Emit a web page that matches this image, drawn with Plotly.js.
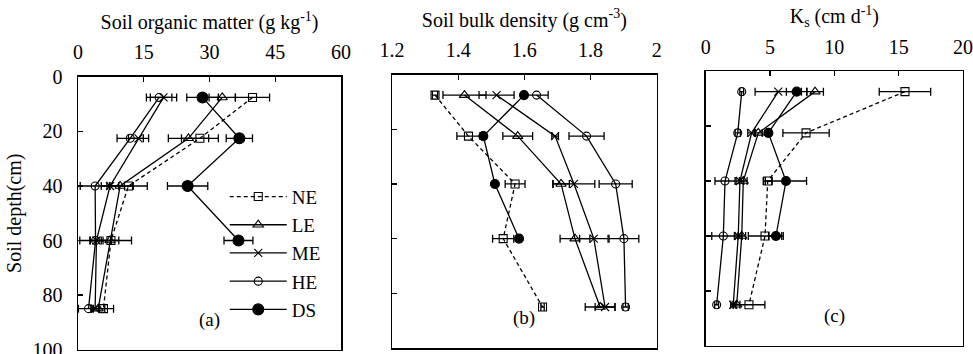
<!DOCTYPE html>
<html>
<head>
<meta charset="utf-8">
<script src="https://cdn.plot.ly/plotly-3.0.1.min.js"></script>
<style>html,body{margin:0;padding:0;background:#fff}#chart{width:973px;height:354px}</style>
</head>
<body>
<div id="chart"></div>
<script>
// depths (cm)
const depth = [7.5, 22.5, 40, 60, 85];
const depthDS = [7.5, 22.5, 40, 60];
const seriesNames = ["NE", "LE", "ME", "HE", "DS"];

// (a) Soil organic matter (g kg-1)
const somNE = [39.8, 27.8, 11.5, 7.5, 5.8];
const somNEerr = [3.9, 4.2, 4.3, 4.7, 2.3];
const somLE = [32.9, 25.2, 9.6, 7.3, 4.6];
const somLEerr = [3.0, 4.6, 3.0, 2.0, 1.5];
const somME = [19.5, 13.8, 7.3, 4.2, 3.9];
const somMEerr = [3.0, 2.3, 2.0, 1.5, 1.0];
const somHE = [18.5, 11.9, 3.9, 4.0, 2.4];
const somHEerr = [2.9, 3.0, 3.4, 3.6, 2.3];
const somDS = [28.4, 36.8, 25.0, 36.6];
const somDSerr = [3.6, 3.0, 4.6, 3.3];

// (b) Soil bulk density (g cm-3)
const bdNE = [1.330, 1.431, 1.572, 1.536, 1.655];
const bdNEerr = [0.008, 0.035, 0.030, 0.032, 0.005];
const bdLE = [1.419, 1.580, 1.711, 1.753, 1.829];
const bdLEerr = [0.065, 0.045, 0.025, 0.045, 0.045];
const bdME = [1.516, 1.693, 1.750, 1.810, 1.844];
const bdMEerr = [0.053, 0.010, 0.063, 0.043, 0.030];
const bdHE = [1.637, 1.788, 1.876, 1.901, 1.906];
const bdHEerr = [0.035, 0.053, 0.050, 0.045, 0.008];
const bdDS = [1.599, 1.476, 1.511, 1.584];
const bdDSerr = [0.005, 0.008, 0.005, 0.006];

// (c) Ks (cm d-1)
const ksNE = [15.49, 7.80, 4.82, 4.61, 3.36];
const ksNEerr = [2.0, 1.8, 0.35, 1.3, 1.24];
const ksLE = [8.50, 4.09, 2.92, 2.80, 2.41];
const ksLEerr = [0.65, 0.3, 0.3, 0.3, 0.25];
const ksME = [5.64, 3.57, 2.66, 2.53, 2.14];
const ksMEerr = [1.8, 0.3, 0.3, 0.3, 0.2];
const ksHE = [2.80, 2.49, 1.50, 1.37, 0.85];
const ksHEerr = [0.15, 0.2, 0.78, 0.9, 0.15];
const ksDS = [7.07, 4.87, 6.24, 5.46];
const ksDSerr = [0.8, 0.2, 1.6, 0.57];

// tick labels
const somTicks = [0, 15, 30, 45, 60];
const bdTicks = [1.2, 1.4, 1.6, 1.8, 2.0];
const bdTickText = ["1.2", "1.4", "1.6", "1.8", "2"];
const ksTicks = [0, 5, 10, 15, 20];
const depthTicks = [0, 20, 40, 60, 80, 100];

const FONT = '"Liberation Serif", "Times New Roman", serif';

const styles = {
  NE: {symbol: "square-open", size: 8, dash: "4px,3px"},
  LE: {symbol: "triangle-up-open", size: 9, dash: "solid"},
  ME: {symbol: "x-thin-open", size: 8, dash: "solid"},
  HE: {symbol: "circle-open", size: 8, dash: "solid"},
  DS: {symbol: "circle", size: 10, dash: "solid"}
};

function mk(name, xs, errs, ys, xa, ya, showLegend, dsSize) {
  const s = styles[name];
  return {
    type: "scatter", mode: "lines+markers", name: name,
    x: xs, y: ys, xaxis: xa, yaxis: ya,
    legendgroup: name, showlegend: showLegend,
    line: {color: "black", width: 1.3, dash: s.dash},
    marker: {symbol: s.symbol, size: name === "DS" ? dsSize : s.size,
             color: "black", line: {color: "black", width: 1.1}},
    error_x: {type: "data", array: errs, visible: true, color: "black", thickness: 1.3, width: 4}
  };
}

const data = [
  mk("NE", somNE, somNEerr, depth, "x", "y", true, 11),
  mk("LE", somLE, somLEerr, depth, "x", "y", true, 11),
  mk("ME", somME, somMEerr, depth, "x", "y", true, 11),
  mk("HE", somHE, somHEerr, depth, "x", "y", true, 11),
  mk("DS", somDS, somDSerr, depthDS, "x", "y", true, 11),
  mk("NE", bdNE, bdNEerr, depth, "x2", "y2", false, 9),
  mk("LE", bdLE, bdLEerr, depth, "x2", "y2", false, 9),
  mk("ME", bdME, bdMEerr, depth, "x2", "y2", false, 9),
  mk("HE", bdHE, bdHEerr, depth, "x2", "y2", false, 9),
  mk("DS", bdDS, bdDSerr, depthDS, "x2", "y2", false, 9),
  mk("NE", ksNE, ksNEerr, depth, "x3", "y3", false, 9),
  mk("LE", ksLE, ksLEerr, depth, "x3", "y3", false, 9),
  mk("ME", ksME, ksMEerr, depth, "x3", "y3", false, 9),
  mk("HE", ksHE, ksHEerr, depth, "x3", "y3", false, 9),
  mk("DS", ksDS, ksDSerr, depthDS, "x3", "y3", false, 9)
];

function xax(domain, range, tv, tt, title, anchor) {
  return {
    domain: domain, range: range, anchor: anchor, side: "top",
    tickmode: "array", tickvals: tv, ticktext: tt,
    ticks: "inside", ticklen: 5, tickwidth: 1.3, tickcolor: "black",
    showline: true, mirror: true, linecolor: "black", linewidth: 1.5,
    showgrid: false, zeroline: false,
    tickfont: {family: FONT, size: 20, color: "black"},
    ticklabelstandoff: 8, ticklabeloverflow: "allow",
    title: {text: title, font: {family: FONT, size: 20, color: "black"}, standoff: 6}
  };
}
function yax(domain, showLabels, anchor) {
  const ax = {
    domain: domain, range: [100, 0], anchor: anchor,
    tickmode: "array", tickvals: depthTicks, showticklabels: showLabels,
    ticks: "inside", ticklen: 5, tickwidth: 1.3, tickcolor: "black",
    showline: true, mirror: true, linecolor: "black", linewidth: 1.5,
    showgrid: false, zeroline: false,
    tickfont: {family: FONT, size: 20, color: "black"},
    ticklabelstandoff: 10, ticklabeloverflow: "allow"
  };
  if (showLabels) ax.title = {text: "Soil depth(cm)", font: {family: FONT, size: 20, color: "black"}, standoff: 5};
  return ax;
}

const layout = {
  width: 973, height: 354,
  margin: {l: 0, r: 0, t: 0, b: 0},
  paper_bgcolor: "white", plot_bgcolor: "white",
  font: {family: FONT, color: "black"},
  xaxis: xax([0.0802, 0.3505], [0, 60], somTicks, somTicks.map(String), "Soil organic matter (g kg<sup>-1</sup>)", "y"),
  xaxis2: xax([0.4029, 0.6749], [1.2, 2.0], bdTicks, bdTickText, "Soil bulk density (g cm<sup>-3</sup>)", "y2"),
  xaxis3: xax([0.7253, 0.9897], [0, 20], ksTicks, ksTicks.map(String), "K<sub>s</sub> (cm d<sup>-1</sup>)", "y3"),
  yaxis: yax([0.0127, 0.7825], true, "x"),
  yaxis2: yax([0.0169, 0.7893], false, "x2"),
  yaxis3: yax([0.0226, 0.7994], false, "x3"),
  showlegend: true,
  legend: {
    x: 0.231, xanchor: "left", y: 0.2847, yanchor: "middle",
    bgcolor: "rgba(0,0,0,0)", borderwidth: 0,
    font: {family: FONT, size: 19, color: "black"},
    itemwidth: 57, tracegroupgap: 0.5, itemclick: false
  },
  annotations: [
    {text: "(a)", xref: "x domain", yref: "y domain", x: 0.5, y: 0.108, yanchor: "middle", showarrow: false, font: {family: FONT, size: 19, color: "black"}},
    {text: "(b)", xref: "x2 domain", yref: "y2 domain", x: 0.5, y: 0.108, yanchor: "middle", showarrow: false, font: {family: FONT, size: 19, color: "black"}},
    {text: "(c)", xref: "x3 domain", yref: "y3 domain", x: 0.5, y: 0.108, yanchor: "middle", showarrow: false, font: {family: FONT, size: 19, color: "black"}}
  ]
};

Plotly.newPlot("chart", data, layout, {staticPlot: true, displayModeBar: false});
</script>
</body>
</html>
